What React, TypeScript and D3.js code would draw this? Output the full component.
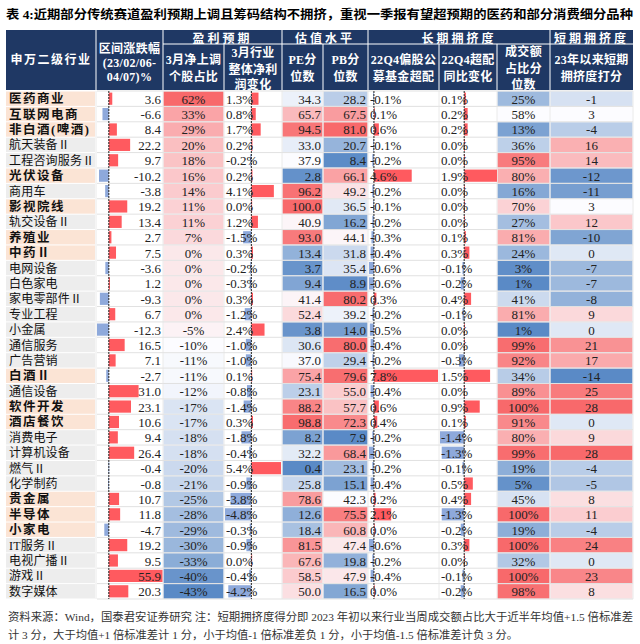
import React from "react";
import * as d3 from "d3";

const industries = ["医药商业","互联网电商","非白酒(啤酒)","航天装备Ⅱ","工程咨询服务Ⅱ","光伏设备","商用车","影视院线","轨交设备Ⅱ","养殖业","中药Ⅱ","电网设备","白色家电","家电零部件Ⅱ","专业工程","小金属","通信服务","广告营销","白酒Ⅱ","通信设备","软件开发","酒店餐饮","消费电子","计算机设备","燃气Ⅱ","化学制药","贵金属","半导体","小家电","IT服务Ⅱ","电视广播Ⅱ","游戏Ⅱ","数字媒体"];
const highlighted = [1,1,1,0,0,1,0,1,0,1,1,0,0,0,0,0,0,0,1,0,1,1,0,0,0,0,1,1,1,0,0,0,0];
const priceChange = [3.6,-6.6,8.4,22.2,9.7,-10.2,-3.8,19.2,13.4,2.7,7.5,-3.6,1.2,-9.3,6.7,-12.3,16.5,7.1,-2.7,31.0,23.1,10.6,9.4,26.4,-0.4,-0.8,10.7,11.8,-4.7,19.2,9.5,55.9,20.3];
const upRatio = [62,33,29,20,18,16,14,11,11,7,0,0,0,0,0,-5,-10,-11,-11,-12,-17,-17,-18,-18,-20,-21,-25,-28,-29,-30,-33,-40,-43];
const profitChange = [1.3,0.8,1.7,0.2,-0.2,0.2,4.1,0.0,1.2,-1.5,0.3,-0.2,-0.3,0.3,-1.2,2.4,-1.0,-1.0,0.1,-0.8,-1.4,0.3,-1.8,-0.4,5.4,-0.9,-3.8,-4.8,-0.3,-0.9,0.0,-0.4,-4.2];
const pePct = [34.3,65.7,94.5,33.0,37.9,2.8,96.2,100.0,40.9,93.0,13.4,3.7,9.4,41.4,52.4,3.8,30.6,37.0,75.4,23.1,88.2,98.8,8.2,32.2,0.4,25.8,78.6,12.6,18.4,81.5,67.6,58.5,50.0];
const pbPct = [28.2,67.5,81.0,20.7,8.4,66.1,49.2,36.5,16.2,44.1,31.8,35.4,8.9,80.2,39.2,14.0,80.0,29.4,79.6,55.0,57.7,72.3,7.9,68.4,23.1,15.1,42.3,75.5,60.8,47.4,19.8,47.9,16.5];
const fundOverweight = [-0.1,0.1,0.6,-0.1,-0.2,4.6,-0.2,-0.1,-0.2,-0.3,-0.4,-0.6,-0.6,0.3,-0.2,-0.5,-0.4,-0.2,7.8,-0.4,0.6,0.4,-0.2,-0.6,-0.2,-0.4,0.2,2.1,0.0,-0.6,-0.2,-0.4,0.0];
const overweightYoY = [0.1,0.2,0.2,0.0,0.0,1.9,0.0,0.0,0.0,0.1,0.3,-0.1,-0.2,0.4,-0.1,0.0,0.0,-0.3,1.5,0.0,0.9,0.1,-1.4,-1.3,-0.1,0.5,0.4,-1.3,-0.2,0.3,0.0,-0.1,-0.2];
const turnoverPct = [25,58,13,36,95,80,16,70,27,81,24,3,1,41,81,1,99,92,34,89,100,91,80,99,19,5,45,100,19,100,32,100,98];
const crowdScore = [-1,3,-4,16,14,-12,-11,3,12,-10,0,-7,-7,-8,9,0,21,17,-14,25,28,0,9,28,-4,-5,8,11,-4,24,0,23,8];

const title = "表 4:近期部分传统赛道盈利预期上调且筹码结构不拥挤，重视一季报有望超预期的医药和部分消费细分品种";
const groupHeaders = [
  { label: "盈利预期", from: 2, to: 3 },
  { label: "估值水平", from: 4, to: 5 },
  { label: "长期拥挤度", from: 6, to: 8 },
  { label: "短期拥挤度", from: 9, to: 9 },
];
const colHeaders: { lines: string[]; ys: number[] }[] = [
  { lines: ["申万二级行业"], ys: [60] },
  { lines: ["区间涨跌幅", "(23/02/06-", "04/07)%"], ys: [49, 63, 77] },
  { lines: ["3月净上调", "个股占比"], ys: [60, 77] },
  { lines: ["3月行业", "整体净利", "润变化"], ys: [53, 69.5, 85] },
  { lines: ["PE分", "位数"], ys: [60, 77] },
  { lines: ["PB分", "位数"], ys: [60, 77] },
  { lines: ["22Q4偏股公", "募基金超配"], ys: [60, 77] },
  { lines: ["22Q4超配", "同比变化"], ys: [60, 77] },
  { lines: ["成交额", "占比分", "位数"], ys: [52, 68.5, 84.5] },
  { lines: ["23年以来短期", "拥挤度打分"], ys: [60, 77] },
];
const footer1 = "资料来源：Wind，国泰君安证券研究  注：短期拥挤度得分即 2023 年初以来行业当周成交额占比大于近半年均值+1.5 倍标准差";
const footer2 = "计 3 分，大于均值+1 倍标准差计 1 分，小于均值-1 倍标准差负 1 分，小于均值-1.5 倍标准差计负 3 分。";

const NAVY = "#1F3864";
const RED_BAR = "#FF5A5F";
const BLUE_BAR = "#8EA9DB";
const NUM_FONT = "'Liberation Serif', 'Noto Sans CJK SC', serif";
const CJK_FONT = "'Noto Sans CJK SC', sans-serif";

const colX = [6, 96, 163, 224, 282, 323, 368, 439, 497, 550, 633];

function heat(values: number[]) {
  const mn = d3.min(values)!;
  const mx = d3.max(values)!;
  const md = d3.median(values)!;
  return d3.scaleLinear<string>().domain([mn, md, mx]).range(["#5A8AC6", "#FCFCFF", "#F8696B"]).clamp(true);
}

export default function App() {
  const W = 640, H = 644;
  const y = d3.scaleBand<number>().domain(d3.range(industries.length)).range([91, 599]);
  const rh = y.bandwidth();

  const xChange = d3.scaleLinear().domain(d3.extent(priceChange) as [number, number]).range([97, 162.5]);
  const xProfit = d3.scaleLinear().domain(d3.extent(profitChange) as [number, number]).range([225, 281]);
  const xOver = d3.scaleLinear().domain(d3.extent(fundOverweight) as [number, number]).range([369, 438]);
  const xYoY = d3.scaleLinear().domain(d3.extent(overweightYoY) as [number, number]).range([440, 497]);

  const cUp = heat(upRatio);
  const cPe = heat(pePct);
  const cPb = heat(pbPct);
  const cTurn = heat(turnoverPct);
  const cScore = heat(crowdScore);

  const bars = (vals: number[], x: d3.ScaleLinear<number, number>, key: string) => (
    <g key={key}>
      {vals.map((v, i) => (
        <rect key={i} x={x(Math.min(0, v))} y={y(i)! + 1.6} width={Math.max(0.8, Math.abs(x(v) - x(0)))} height={rh - 3.2}
          fill={v >= 0 ? RED_BAR : BLUE_BAR} />
      ))}
      <line x1={x(0)} x2={x(0)} y1={91} y2={599} stroke="#222" strokeWidth={1} strokeDasharray="2,1" />
    </g>
  );

  const heatCells = (vals: number[], c: (v: number) => string, ci: number, key: string) => (
    <g key={key}>
      {vals.map((v, i) => (
        <rect key={i} x={colX[ci] + 0.5} y={y(i)! + 0.5} width={colX[ci + 1] - colX[ci] - 1} height={rh - 1} fill={c(v)} />
      ))}
    </g>
  );

  const numStyle: React.CSSProperties = { fontFamily: NUM_FONT, fontSize: 13, fill: "#222" };

  return (
    <svg width={W} height={H} style={{ position: "absolute", left: 0, top: 0, background: "#fff" }}>
      <rect width={W} height={H} fill="#fff" />
      <text x={6} y={19} textLength={627} lengthAdjust="spacingAndGlyphs" style={{ fontFamily: NUM_FONT, fontSize: 12.5, fontWeight: 700, fill: "#000" }}>{title}</text>

      {/* header */}
      <rect x={colX[0]} y={30} width={colX[10] - colX[0]} height={60} fill={NAVY} />
      {colX.slice(1, 10).map((x, i) => (
        <line key={i} x1={x} x2={x} y1={(i + 1 === 3 || i + 1 === 5 || i + 1 === 7 || i + 1 === 8) ? 44 : 30} y2={90} stroke="#fff" strokeWidth={1} />
      ))}
      <line x1={colX[2]} x2={colX[10]} y1={44} y2={44} stroke="#fff" strokeWidth={1} />
      {groupHeaders.map((g) => (
        <text key={g.label} x={(colX[g.from] + colX[g.to + 1]) / 2} y={37.5} textAnchor="middle" dominantBaseline="central"
          style={{ fontFamily: CJK_FONT, fontSize: 12, fontWeight: 700, fill: "#fff", letterSpacing: 3 }}>{g.label}</text>
      ))}
      {colHeaders.map((h, ci) => h.lines.map((ln, li) => (
        <text key={ci + "-" + li} x={(colX[ci] + colX[ci + 1]) / 2} y={h.ys[li]} textAnchor="middle" dominantBaseline="central"
          style={{ fontFamily: NUM_FONT, fontSize: 12, fontWeight: 700, fill: "#fff", letterSpacing: ci === 0 ? 1.5 : 0.3 }}>{ln}</text>
      )))}

      {/* name column */}
      {industries.map((name, i) => (
        <g key={name}>
          <rect x={colX[0]} y={y(i)! + 0.5} width={colX[1] - colX[0] - 1} height={rh - 1} fill={highlighted[i] ? "#FBE4D5" : "#EDEDED"} />
          <text x={9} y={y(i)! + rh / 2 + 0.5} dominantBaseline="central"
            style={{ fontFamily: NUM_FONT, fontSize: highlighted[i] ? 12.5 : 12, fontWeight: highlighted[i] ? 700 : 400, fill: "#111", letterSpacing: highlighted[i] ? 1.5 : 0.2 }}>{name}</text>
        </g>
      ))}

      {/* heat cells */}
      {heatCells(upRatio, cUp, 2, "up")}
      {heatCells(pePct, cPe, 4, "pe")}
      {heatCells(pbPct, cPb, 5, "pb")}
      {heatCells(turnoverPct, cTurn, 8, "turn")}
      {heatCells(crowdScore, cScore, 9, "score")}

      {/* grid lines */}
      {d3.range(industries.length + 1).map((i) => (
        <line key={"h" + i} x1={colX[1] + 1} x2={colX[10]} y1={91 + i * rh} y2={91 + i * rh} stroke="#D9D9D9" strokeWidth={0.8} />
      ))}
      {colX.slice(1).map((x, i) => (
        <line key={"v" + i} x1={x} x2={x} y1={91} y2={599} stroke="#E4E4E4" strokeWidth={0.8} />
      ))}

      {/* data bars */}
      {bars(priceChange, xChange, "b1")}
      {bars(profitChange, xProfit, "b2")}
      {bars(fundOverweight, xOver, "b3")}
      {bars(overweightYoY, xYoY, "b4")}

      {/* values */}
      {industries.map((_, i) => {
        const cy = y(i)! + rh / 2 + 0.5;
        return (
          <g key={"t" + i} style={numStyle}>
            <text x={161} y={cy} textAnchor="end" dominantBaseline="central">{priceChange[i].toFixed(1)}</text>
            <text x={(colX[2] + colX[3]) / 2} y={cy} textAnchor="middle" dominantBaseline="central">{upRatio[i]}%</text>
            <text x={226} y={cy} dominantBaseline="central">{profitChange[i].toFixed(1)}%</text>
            <text x={321} y={cy} textAnchor="end" dominantBaseline="central">{pePct[i].toFixed(1)}</text>
            <text x={366} y={cy} textAnchor="end" dominantBaseline="central">{pbPct[i].toFixed(1)}</text>
            <text x={370} y={cy} dominantBaseline="central">{fundOverweight[i].toFixed(1)}%</text>
            <text x={441} y={cy} dominantBaseline="central">{overweightYoY[i].toFixed(1)}%</text>
            <text x={(colX[8] + colX[9]) / 2} y={cy} textAnchor="middle" dominantBaseline="central">{turnoverPct[i]}%</text>
            <text x={(colX[9] + colX[10]) / 2} y={cy} textAnchor="middle" dominantBaseline="central">{crowdScore[i]}</text>
          </g>
        );
      })}

      {/* footer */}
      <text x={8} y={621} textLength={625} lengthAdjust="spacingAndGlyphs" style={{ fontFamily: NUM_FONT, fontSize: 11, fill: "#333" }}>{footer1}</text>
      <text x={8} y={639} textLength={510} lengthAdjust="spacingAndGlyphs" style={{ fontFamily: NUM_FONT, fontSize: 11, fill: "#333" }}>{footer2}</text>
    </svg>
  );
}
